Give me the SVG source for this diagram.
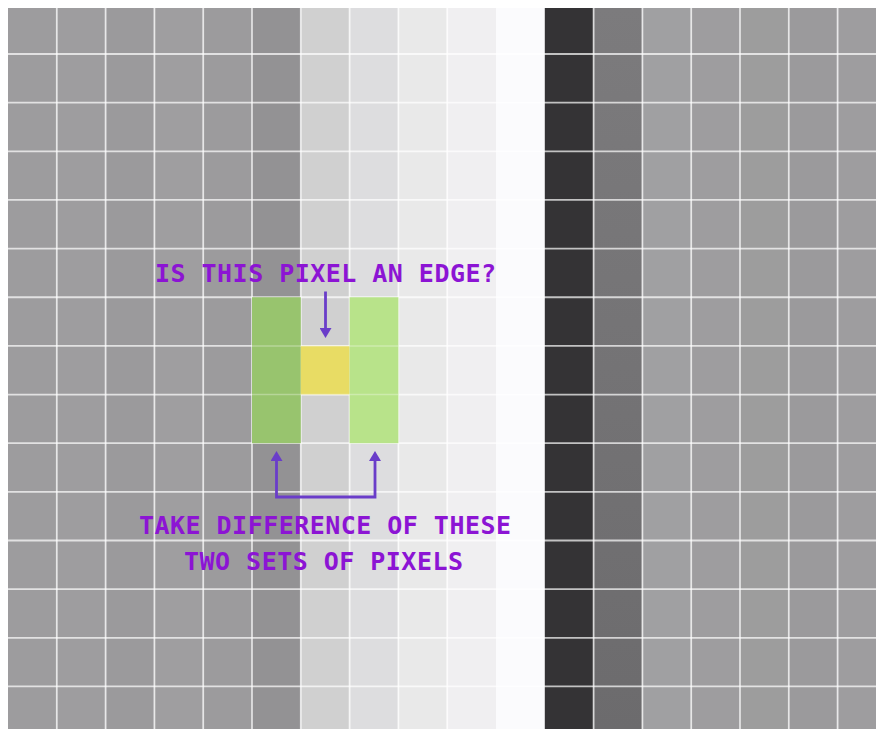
<svg xmlns="http://www.w3.org/2000/svg" width="876" height="729" viewBox="0 0 876 729">
  <defs>
    <style>
      .grid line { stroke: #ffffff; stroke-width: 1.8; stroke-opacity: 0.7; }
      .faint line { stroke: #ffffff; stroke-width: 1.5; stroke-opacity: 0.3; }
      .lbl { font-family: "DejaVu Sans Mono", "Liberation Mono", monospace; font-weight: bold; font-size: 25px; fill: #8c14d4; }
      .arrow { fill: none; stroke: #6a3dc9; stroke-width: 2.8; stroke-linejoin: miter; }
    </style>
    <linearGradient id="col12" x1="0" y1="0" x2="0" y2="1">
      <stop offset="0" stop-color="#7c7b7d"/>
      <stop offset="1" stop-color="#6c6b6d"/>
    </linearGradient>
    <marker id="head" viewBox="0 0 10 12" refX="0" refY="6" markerWidth="10" markerHeight="12" markerUnits="userSpaceOnUse" orient="auto-start-reverse">
      <path d="M0,0 L10,6 L0,12 Z" fill="#6a3dc9"/>
    </marker>
  </defs>

  <rect x="0" y="0" width="876" height="729" fill="#ffffff"/>

  <g id="pixel-columns">
    <rect x="8" y="8" width="48.8" height="721" fill="#9d9c9e"/>
    <rect x="56.8" y="8" width="48.8" height="721" fill="#9e9d9f"/>
    <rect x="105.6" y="8" width="48.8" height="721" fill="#9b9a9c"/>
    <rect x="154.4" y="8" width="48.8" height="721" fill="#9f9ea0"/>
    <rect x="203.2" y="8" width="48.8" height="721" fill="#9c9b9d"/>
    <rect x="252" y="8" width="48.8" height="721" fill="#939294"/>
    <rect x="300.8" y="8" width="48.8" height="721" fill="#d0d0d0"/>
    <rect x="349.6" y="8" width="48.8" height="721" fill="#dddddf"/>
    <rect x="398.4" y="8" width="48.8" height="721" fill="#e9e9e9"/>
    <rect x="447.2" y="8" width="48.8" height="721" fill="#f0eff1"/>
    <rect x="496" y="8" width="48.8" height="721" fill="#fbfbfd"/>
    <rect x="544.8" y="8" width="48.8" height="721" fill="#343335"/>
    <rect x="593.6" y="8" width="48.8" height="721" fill="url(#col12)"/>
    <rect x="642.4" y="8" width="48.8" height="721" fill="#a0a0a2"/>
    <rect x="691.2" y="8" width="48.8" height="721" fill="#9e9d9f"/>
    <rect x="740" y="8" width="48.8" height="721" fill="#9d9d9d"/>
    <rect x="788.8" y="8" width="48.8" height="721" fill="#9b9a9c"/>
    <rect x="837.6" y="8" width="38.4" height="721" fill="#9e9d9f"/>
  </g>

  <g id="grid-lines" class="grid">
    <line x1="56.8" y1="8" x2="56.8" y2="729"/>
    <line x1="105.6" y1="8" x2="105.6" y2="729"/>
    <line x1="154.4" y1="8" x2="154.4" y2="729"/>
    <line x1="203.2" y1="8" x2="203.2" y2="729"/>
    <line x1="252" y1="8" x2="252" y2="729"/>
    <line x1="300.8" y1="8" x2="300.8" y2="729"/>
    <line x1="349.6" y1="8" x2="349.6" y2="729"/>
    <line x1="398.4" y1="8" x2="398.4" y2="729"/>
    <line x1="447.2" y1="8" x2="447.2" y2="729"/>
    <line x1="593.6" y1="8" x2="593.6" y2="729"/>
    <line x1="642.4" y1="8" x2="642.4" y2="729"/>
    <line x1="691.2" y1="8" x2="691.2" y2="729"/>
    <line x1="740" y1="8" x2="740" y2="729"/>
    <line x1="788.8" y1="8" x2="788.8" y2="729"/>
    <line x1="837.6" y1="8" x2="837.6" y2="729"/>
    <line x1="8" y1="54" x2="876" y2="54"/>
    <line x1="8" y1="102.65" x2="876" y2="102.65"/>
    <line x1="8" y1="151.3" x2="876" y2="151.3"/>
    <line x1="8" y1="199.95" x2="876" y2="199.95"/>
    <line x1="8" y1="248.6" x2="876" y2="248.6"/>
    <line x1="8" y1="297.25" x2="876" y2="297.25"/>
    <line x1="8" y1="345.9" x2="876" y2="345.9"/>
    <line x1="8" y1="394.55" x2="876" y2="394.55"/>
    <line x1="8" y1="443.2" x2="876" y2="443.2"/>
    <line x1="8" y1="491.85" x2="876" y2="491.85"/>
    <line x1="8" y1="540.5" x2="876" y2="540.5"/>
    <line x1="8" y1="589.15" x2="876" y2="589.15"/>
    <line x1="8" y1="637.8" x2="876" y2="637.8"/>
    <line x1="8" y1="686.45" x2="876" y2="686.45"/>
  </g>

  <g id="left-neighbours">
    <rect x="252" y="297.25" width="48.8" height="145.95" fill="#98c46e"/>
  </g>
  <g id="target-pixel">
    <rect x="300.8" y="345.9" width="48.8" height="48.65" fill="#e8dc64"/>
  </g>
  <g id="right-neighbours">
    <rect x="349.6" y="297.25" width="48.8" height="145.95" fill="#b8e38a"/>
  </g>
  <g class="faint">
    <line x1="252" y1="345.9" x2="398.4" y2="345.9"/>
    <line x1="252" y1="394.55" x2="398.4" y2="394.55"/>
  </g>

  <g id="connectors">
    <path class="arrow" d="M325.5,291.5 L325.5,328" marker-end="url(#head)"/>
    <path class="arrow" d="M276.5,461 L276.5,497 L375,497 L375,461" marker-start="url(#head)" marker-end="url(#head)"/>
  </g>

  <g id="question-label">
    <text class="lbl" x="155" y="282" textLength="341" lengthAdjust="spacing">IS THIS PIXEL AN EDGE?</text>
  </g>
  <g id="difference-label">
    <text class="lbl" x="139" y="533.5" textLength="372" lengthAdjust="spacing">TAKE DIFFERENCE OF THESE</text>
    <text class="lbl" x="184" y="570" textLength="279" lengthAdjust="spacing">TWO SETS OF PIXELS</text>
  </g>
</svg>
